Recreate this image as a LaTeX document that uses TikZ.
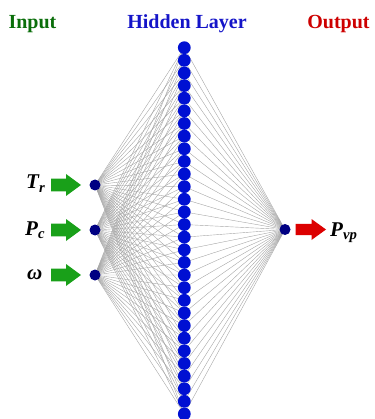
\documentclass[tikz,border=0pt]{standalone}
\usepackage{fontspec}
\setmainfont{Liberation Serif}
\usetikzlibrary{backgrounds}
\definecolor{ttlgreen}{RGB}{10,110,10}
\definecolor{ttlblue}{RGB}{20,20,200}
\definecolor{ttlred}{RGB}{205,0,0}
\definecolor{hidblue}{RGB}{0,16,210}
\definecolor{navy}{RGB}{0,0,130}
\definecolor{arrgreen}{RGB}{25,160,25}
\definecolor{arrred}{RGB}{220,0,0}
\begin{document}
\begin{tikzpicture}[x=1pt,y=-1pt,
  title/.style={font=\fontsize{20}{24}\selectfont\bfseries, anchor=base, inner sep=0pt},
  var/.style={font=\fontsize{21}{25}\selectfont\bfseries\itshape, anchor=base west, inner sep=0pt},
  hid/.style={circle, fill=hidblue, minimum size=12.8pt, inner sep=0pt},
  io/.style={circle, fill=navy, minimum size=11pt, inner sep=0pt},
  wire/.style={draw=gray!70, line width=0.4pt}]
\useasboundingbox (0,0) rectangle (374,419);
% titles
\node[title, text=ttlgreen] (tin) at (32.5,29) {Input};
\node[title, text=ttlblue] (thid) at (187,29) {Hidden Layer};
\node[title, text=ttlred] (tout) at (338.5,29) {Output};
% hidden nodes
\foreach \k in {0,...,29} {
  \node[hid] (h\k) at (184.3,{47.7+12.63*\k}) {};
}
% input nodes
\node[io] (i1) at (95,185) {};
\node[io] (i2) at (95,230) {};
\node[io] (i3) at (95,275) {};
\node[io] (o) at (285,229.5) {};
% wires
\begin{pgfonlayer}{background}
\foreach \k in {0,...,29} {
  \foreach \j in {1,2,3} { \draw[wire] (i\j.center) -- (h\k.center); }
  \draw[wire] (h\k.center) -- (o.center);
}
\end{pgfonlayer}
% input arrows
\foreach \j/\yy in {1/185,2/230,3/275} {
  \fill[arrgreen] (51,\yy-6.3) -- (66,\yy-6.3) -- (66,\yy-11) -- (81,\yy) -- (66,\yy+11) -- (66,\yy+6.3) -- (51,\yy+6.3) -- cycle;
}
\fill[arrred] (295.5,229.5-5.7) -- (311.5,229.5-5.7) -- (311.5,229.5-10.5) -- (326,229.5) -- (311.5,229.5+10.5) -- (311.5,229.5+5.7) -- (295.5,229.5+5.7) -- cycle;
% labels
\node[var] (lt) at (26,189) {T\textsubscript{r}};
\node[var] (lp) at (25,235) {P\textsubscript{c}};
\node[var] (lw) at (27,279) {ω};
\node[var] (lo) at (330,236) {P\textsubscript{vp}};
\end{tikzpicture}
\end{document}
